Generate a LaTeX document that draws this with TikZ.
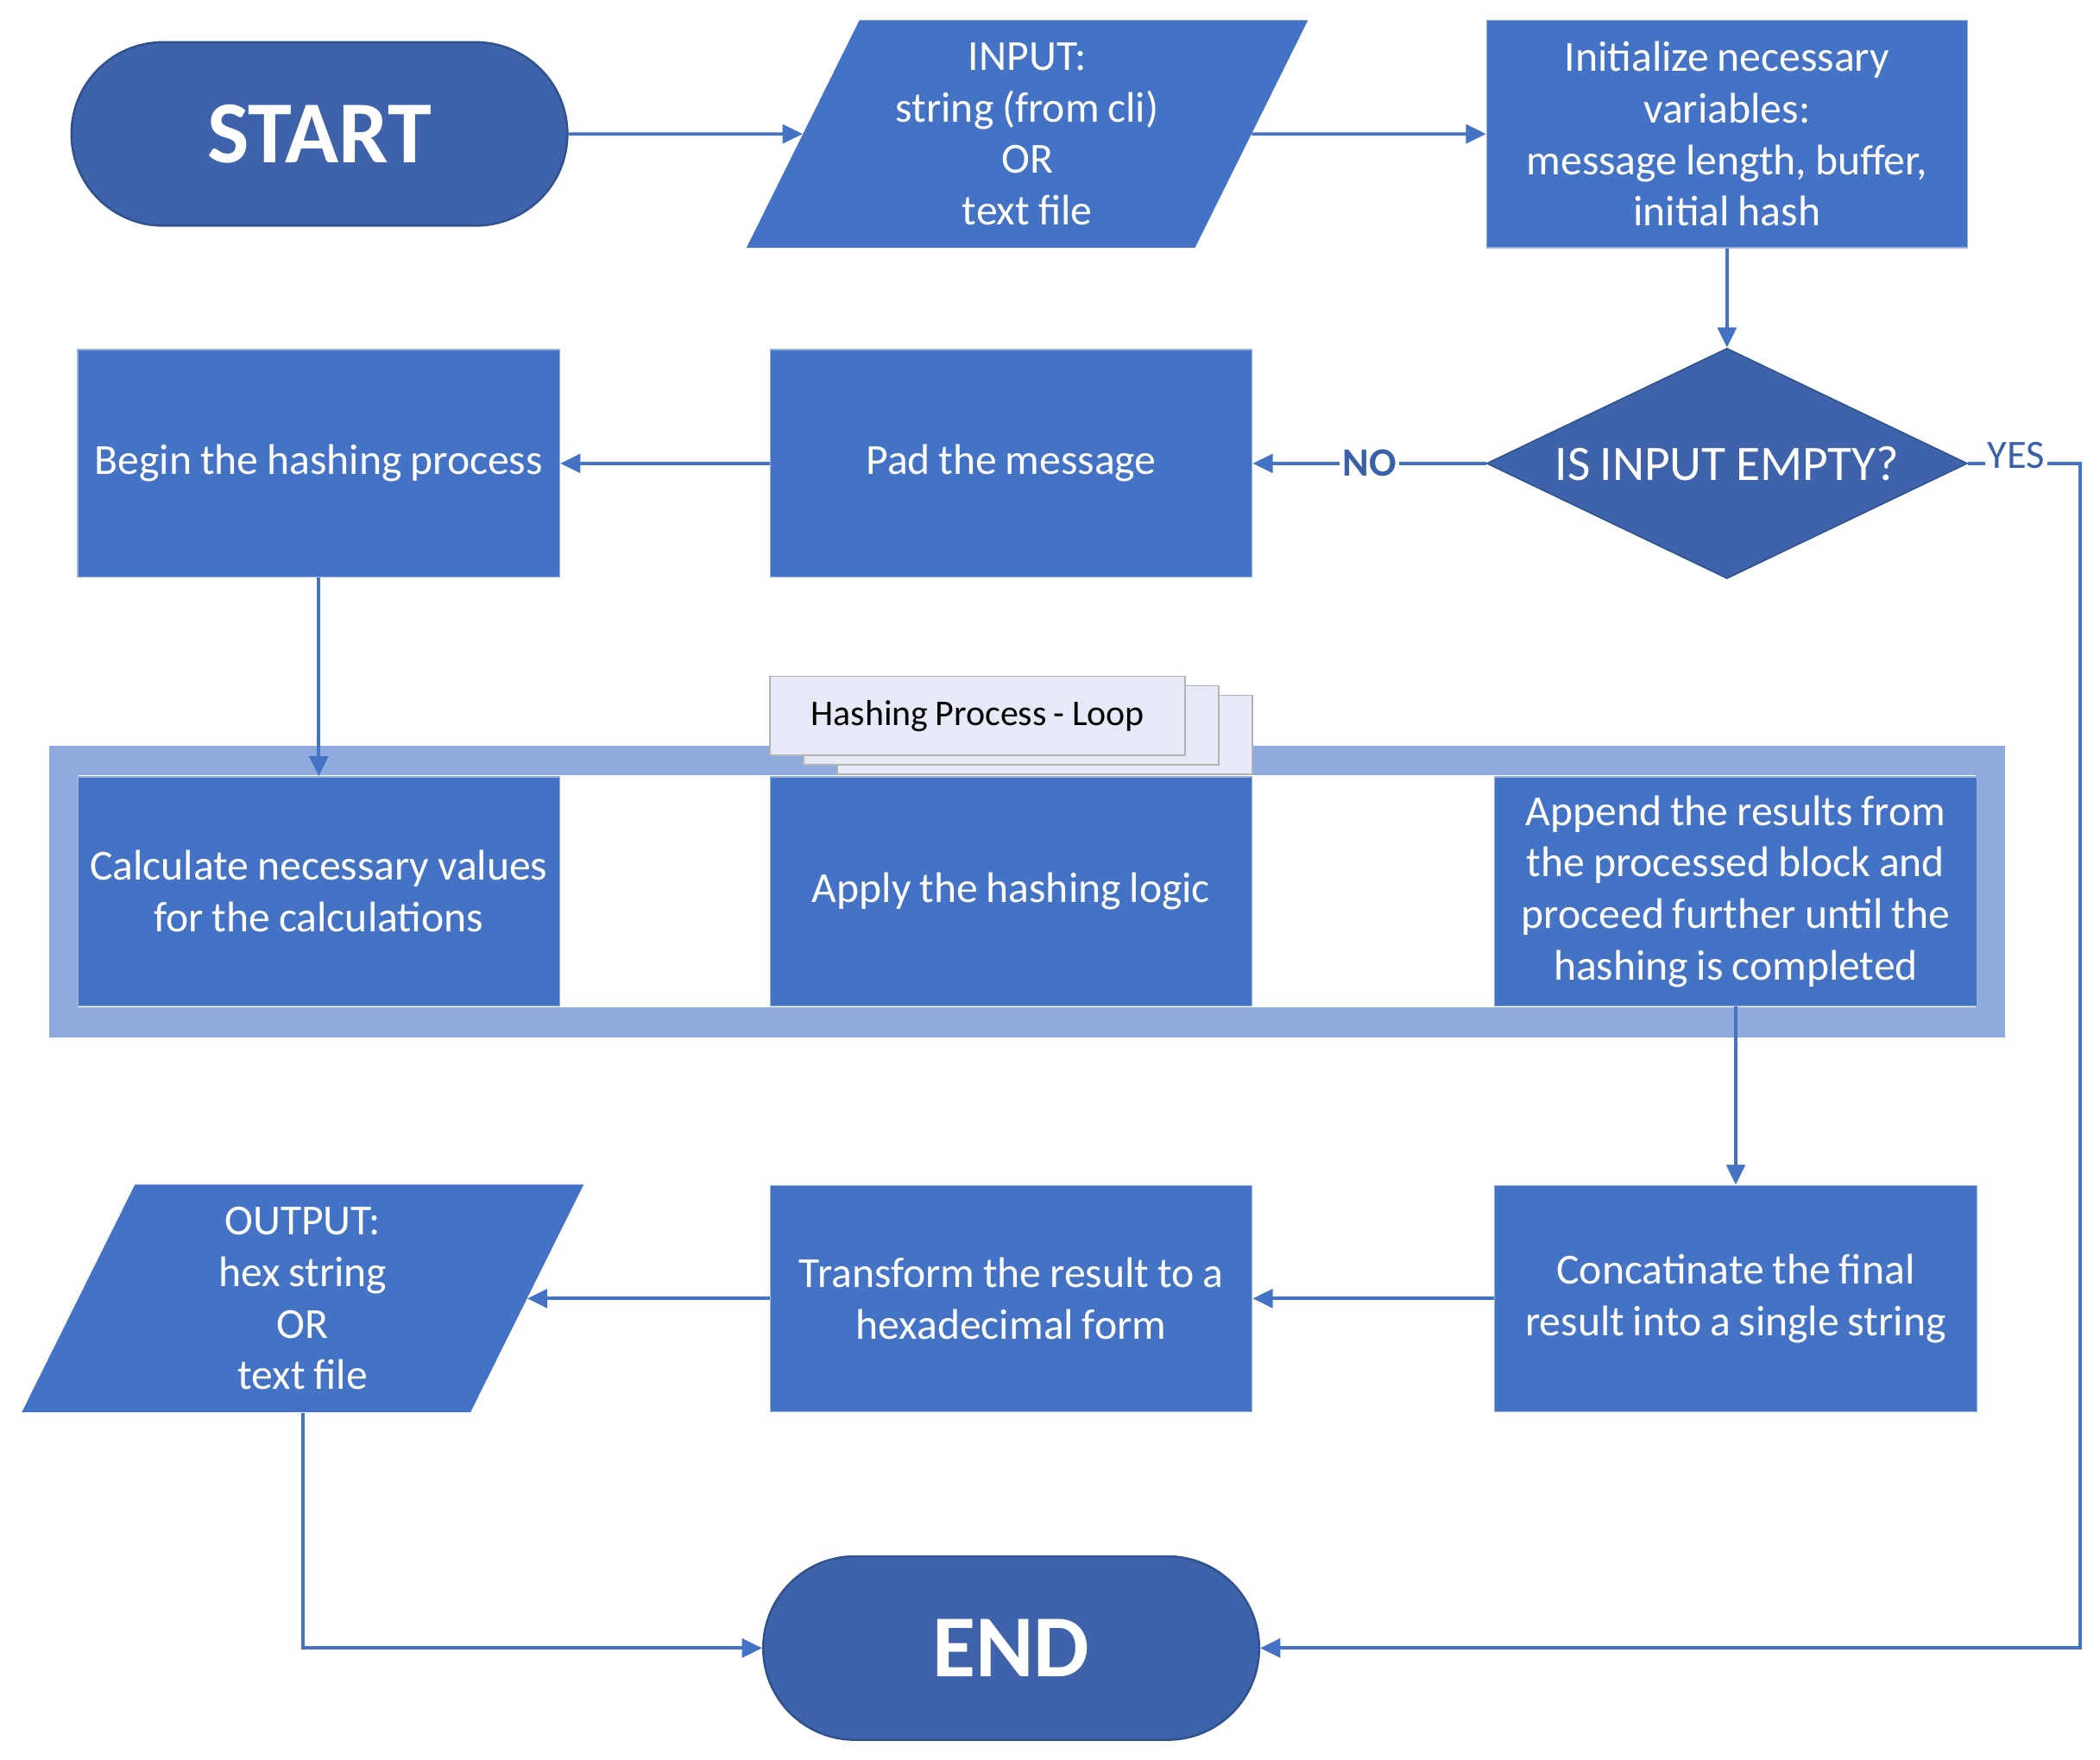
\documentclass[tikz,border=0pt]{standalone}
\usepackage{fontspec}
\setmainfont{Carlito}[WordSpace={0.875,0,0}]
\usepackage{tikz}
\usetikzlibrary{arrows.meta}
\usetikzlibrary{shapes.geometric,shapes.misc,shadows}
\usetikzlibrary{fit,backgrounds}

\definecolor{boxblue}{HTML}{4472C4}
\definecolor{termblue}{HTML}{3E63AA}
\definecolor{edgeblue}{HTML}{2F528F}
\definecolor{bandblue}{HTML}{8FAADC}
\definecolor{tabfill}{HTML}{E5EAF6}
\definecolor{labelblue}{HTML}{3A60A8}

\tikzset{
  proc/.style={rectangle, fill=boxblue, draw=boxblue!55!white, line width=0.8pt,
    minimum width=360pt, minimum height=170pt, align=center,
    text=white, font=\fontsize{32}{38.5}\selectfont},
  term/.style={rounded rectangle, fill=termblue, draw=edgeblue, line width=1.6pt,
    minimum width=377pt, minimum height=137pt, text=white,
    font=\fontsize{66}{70}\selectfont\bfseries},
  io/.style={trapezium, trapezium left angle=63.7, trapezium right angle=116.3,
    trapezium stretches=true, fill=boxblue, minimum width=421pt, minimum height=170pt,
    inner sep=0pt, text width=200pt, align=flush center, text=white,
    font=\fontsize{32}{38.5}\selectfont},
  decision/.style={diamond, aspect=2.09, fill=termblue, draw=edgeblue, line width=1pt,
    minimum width=359pt, minimum height=172pt, inner sep=0pt, text=white,
    font=\fontsize{37}{40}\selectfont},
  loopframe/.style={draw=bandblue, line width=22pt, inner xsep=10pt, inner ysep=12pt},
  looptab/.style={rectangle, fill=tabfill, draw=black!30, line width=1pt,
    minimum width=310pt, minimum height=59pt, font=\fontsize{27}{30}\selectfont,
    double copy shadow={shadow xshift=25pt, shadow yshift=-7pt}},
  flow/.style={draw=boxblue, line width=2.4pt, -{Triangle[length=15pt,width=14pt]}},
  edgelbl/.style={fill=white, text=labelblue, inner sep=2pt,
    font=\fontsize{30}{30}\selectfont}
}

\begin{document}
\begin{tikzpicture}[x=1pt, y=-1pt]
\useasboundingbox (0,0) rectangle (1568,1314);

% top row
\draw (238.5,100) node[term]                       (start) {START};
\draw (767,100) node[io]                           (input) {INPUT:\\string (from cli)\\OR\\text file};
\draw (1289.5,100) node[proc, minimum width=359pt] (init) {Initialize necessary\\variables:\\message length, buffer,\\initial hash};

% second row
\draw (1289.5,346) node[decision]                  (empty) {IS INPUT EMPTY?};
\draw (755,346) node[proc]                         (pad) {Pad the message};
\draw (238,346) node[proc]                         (begin) {Begin the hashing process};
\coordinate (yesbend) at (1553,346);

% hashing loop
\draw (238,665.5) node[proc, minimum height=171pt]  (calc) {Calculate necessary values\\for the calculations};
\draw (755,665.5) node[proc, minimum height=171pt]  (apply) {Apply the hashing logic};
\draw (1296,665.5) node[proc, minimum height=171pt] (append) {Append the results from\\the processed block and\\proceed further until the\\hashing is completed};
\begin{scope}[on background layer]
  \node[loopframe, fit=(calc)(apply)(append)] (loop) {};
\end{scope}
\draw (730,534.5) node[looptab]                    (tab) {Hashing Process - Loop};

% bottom rows
\draw (1296,969.5) node[proc, minimum height=169pt] (concat) {Concatinate the final\\result into a single string};
\draw (755,969.5) node[proc, minimum height=169pt]  (transform) {Transform the result to a\\hexadecimal form};
\draw (226,969.5) node[io]                         (output) {OUTPUT:\\hex string\\OR\\text file};
\draw (755,1230.5) node[term]                      (end) {END};

\draw[flow] (start) -- (input);
\draw[flow] (input) -- (init);
\draw[flow] (init) -- (empty);
\draw[flow] (empty) -- node[edgelbl, font=\fontsize{30}{30}\selectfont\bfseries] {NO} (pad);
\draw[flow] (empty) -- node[edgelbl, pos=0.43, yshift=6pt] {YES} (yesbend) |- (end);
\draw[flow] (pad) -- (begin);
\draw[flow] (begin) -- (calc);
\draw[flow] (append) -- (concat);
\draw[flow] (concat) -- (transform);
\draw[flow] (transform) -- (output);
\draw[flow] (output) |- (end);

\end{tikzpicture}
\end{document}
